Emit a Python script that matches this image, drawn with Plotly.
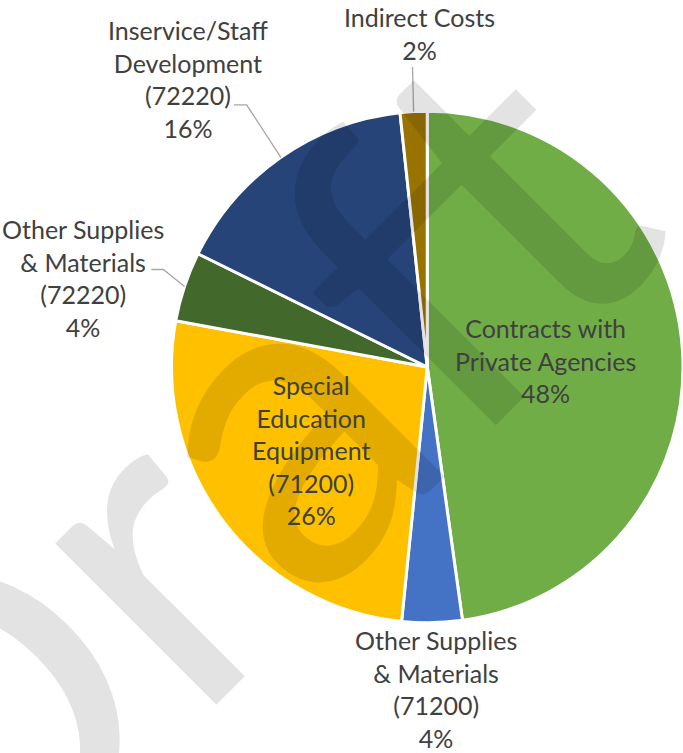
import math
import plotly.graph_objects as go

# ---- data ----
categories = [
    "Contracts with Private Agencies",
    "Other Supplies & Materials (71200)",
    "Special Education Equipment (71200)",
    "Other Supplies & Materials (72220)",
    "Inservice/Staff Development (72220)",
    "Indirect Costs",
]
label_lines = [
    "Contracts with<br>Private Agencies",
    "Other Supplies<br>& Materials<br>(71200)",
    "Special<br>Education<br>Equipment<br>(71200)",
    "Other Supplies<br>& Materials<br>(72220)",
    "Inservice/Staff<br>Development<br>(72220)",
    "Indirect Costs",
]
shares = [47.8, 3.8, 26.3, 4.4, 16.0, 1.7]
colors = ["#70AD47", "#4472C4", "#FFC000", "#43682B", "#264478", "#997300"]

# ---- layout / style ----
W, H = 683, 753
CX, CY, R = 428, 367, 256.5
x0 = (CX - R) / W
x1 = min(1.0, (CX + R) / W)
y0 = 1 - (CY + R) / H
y1 = 1 - (CY - R) / H
r_eff = min((x1 - x0) * W, (y1 - y0) * H) / 2
cx = (x0 + x1) / 2 * W
cy = H - (y0 + y1) / 2 * H

# per-slice label style: radial factor, pixel offset, leader-line offsets (relative to label centre)
label_factor = [0.464, 1.263, 0.56, 1.39, 1.45, 1.30]
label_offset = [(0, 2), (3, -1), (-2, -3), (-7, 23), (-27, 16), (10, -1)]
leaders = [None, None, None, [(80.5, -8.5), (68.5, -8.5)], [(58.7, 26), (46, 26)], [(-7, 33)]]

FONT = "Lato"
TXT = "#404040"


def px(x):
    return x / W


def py(y):
    return 1 - y / H


total = sum(shares)
annotations = []
shapes = []

# watermark first so labels sit above it
annotations.append(dict(
    text="Draft", x=px(195), y=py(480), xref="paper", yref="paper",
    xanchor="center", yanchor="middle", showarrow=False, textangle=-45,
    font=dict(family=FONT, size=450, color="rgba(0,0,0,0.11)"),
))

cum = 0.0
for i, v in enumerate(shares):
    mid = (cum + v / 2) / total * 360.0
    cum += v
    th = math.radians(mid)
    sx, sy = math.sin(th), -math.cos(th)
    d = r_eff * label_factor[i]
    lx = cx + d * sx + label_offset[i][0]
    ly = cy + d * sy + label_offset[i][1]
    pct = f"{round(v / total * 100)}%"
    annotations.append(dict(
        text=f"{label_lines[i]}<br>{pct}", x=px(lx), y=py(ly), xref="paper", yref="paper",
        xanchor="center", yanchor="middle", showarrow=False, align="center",
        font=dict(family=FONT, size=25, color=TXT),
    ))
    if leaders[i]:
        rx, ry = cx + r_eff * sx, cy + r_eff * sy
        pts = [(rx, ry)] + [(lx + ox, ly + oy) for ox, oy in leaders[i]]
        path = "M " + " L ".join(f"{px(a):.5f},{py(b):.5f}" for a, b in pts)
        shapes.append(dict(type="path", path=path, xref="paper", yref="paper",
                           line=dict(color="#A6A6A6", width=1.3)))

fig = go.Figure(go.Pie(
    labels=categories,
    values=shares,
    sort=False,
    direction="clockwise",
    rotation=0,
    marker=dict(colors=colors, line=dict(color="white", width=3)),
    textposition="none",
    hoverinfo="label+percent",
    domain=dict(x=[x0, x1], y=[y0, y1]),
))

fig.update_layout(
    width=W, height=H,
    margin=dict(l=0, r=0, t=0, b=0),
    paper_bgcolor="white",
    plot_bgcolor="white",
    showlegend=False,
    annotations=annotations,
    shapes=shapes,
)

fig.write_html(
    "out.html",
    config={"displayModeBar": False},
    post_script="document.body.style.margin='0';document.body.style.padding='0';document.body.style.overflow='hidden';",
)
